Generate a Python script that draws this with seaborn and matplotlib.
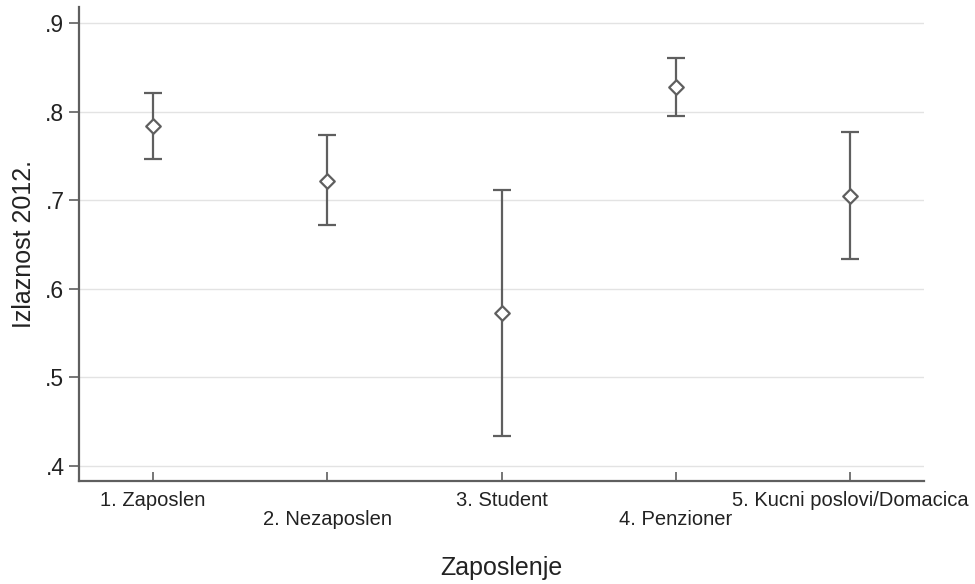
import pandas as pd
import matplotlib.pyplot as plt
import seaborn as sns

# Predicted turnout by employment status, with 95% CIs
categories = ['1. Zaposlen', '2. Nezaposlen', '3. Student', '4. Penzioner', '5. Kucni poslovi/Domacica']
means = [0.784, 0.722, 0.573, 0.828, 0.705]
lower = [0.746, 0.672, 0.434, 0.795, 0.634]
upper = [0.821, 0.773, 0.712, 0.861, 0.777]
y_ticks = [0.4, 0.5, 0.6, 0.7, 0.8, 0.9]
y_tick_labels = ['.4', '.5', '.6', '.7', '.8', '.9']

df = pd.DataFrame({'pos': range(1, len(categories) + 1), 'mean': means,
                   'lower': lower, 'upper': upper})

sns.set_style('white')
plt.rcParams['font.family'] = ['Liberation Sans', 'DejaVu Sans']

line_col = '#5f5f5f'
fig = plt.figure(figsize=(9.75, 5.84), dpi=100)
ax = fig.add_axes([0.081, 0.1764, 0.867, 0.8116])

ax.errorbar(df['pos'], df['mean'],
            yerr=[df['mean'] - df['lower'], df['upper'] - df['mean']],
            fmt='none', ecolor=line_col, elinewidth=1.6, capsize=6.5, capthick=1.6, zorder=2)
sns.scatterplot(data=df, x='pos', y='mean', marker='D', s=55, color='white',
                edgecolor=line_col, linewidth=1.6, ax=ax, zorder=3)

ax.set_xlim(0.577, 5.424)
ax.set_ylim(0.383, 0.918)
ax.set_yticks(y_ticks)
ax.set_yticklabels(y_tick_labels, fontsize=16.5)
ax.set_xticks(df['pos'])
# stagger the labels the way Stata does
ax.set_xticklabels([c if i % 2 == 0 else '\n' + c for i, c in enumerate(categories)],
                   fontsize=14.5, linespacing=1.0)
ax.grid(axis='y', color='#e3e3e3', linewidth=1)
ax.set_axisbelow(True)

for side in ['top', 'right']:
    ax.spines[side].set_visible(False)
for side in ['left', 'bottom']:
    ax.spines[side].set_color(line_col)
    ax.spines[side].set_linewidth(1.6)
ax.tick_params(axis='y', length=7, width=1.2, color=line_col, direction='out',
               left=True, pad=3.5, labelcolor='#222222')
ax.tick_params(axis='x', length=6.5, width=1.2, color=line_col, direction='in',
               bottom=True, pad=7, labelcolor='#222222')

ax.set_xlabel('Zaposlenje', fontsize=18, labelpad=20, color='#222222')
ax.set_ylabel('Izlaznost 2012.', fontsize=18, labelpad=7, color='#222222')

fig.savefig('out.png', dpi=100)
